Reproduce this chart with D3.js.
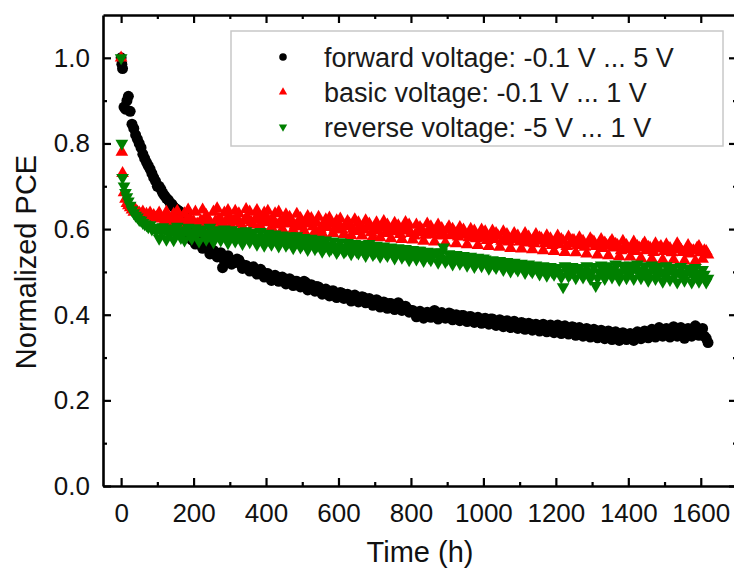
<!DOCTYPE html>
<html>
<head>
<meta charset="utf-8">
<script src="https://cdn.jsdelivr.net/npm/d3@7"></script>
<style>
  html, body { margin: 0; padding: 0; background: #fff; }
  svg { display: block; }
  text { font-family: "Liberation Sans", Arial, sans-serif; }
</style>
</head>
<body>
<svg id="chart" width="734" height="572"></svg>
<script>
// ---------------- data ----------------
// first pass of measurements
const hours = [
  0, 2, 4, 8, 12, 16, 20, 25, 30, 35, 40, 45, 50, 55, 60, 65, 70, 75, 80, 85, 90, 95, 100,
  110, 120, 130, 140, 150, 160, 170, 180, 190, 200,
  210, 220, 230, 240, 250, 260, 270, 280, 290, 300,
  310, 320, 330, 340, 350, 360, 370, 380, 390, 400,
  410, 420, 430, 440, 450, 460, 470, 480, 490, 500,
  510, 520, 530, 540, 550, 560, 570, 580, 590, 600,
  610, 620, 630, 640, 650, 660, 670, 680, 690, 700,
  710, 720, 730, 740, 750, 760, 770, 780, 790, 800,
  810, 820, 830, 840, 850, 860, 870, 880, 890, 900,
  910, 920, 930, 940, 950, 960, 970, 980, 990, 1000,
  1010, 1020, 1030, 1040, 1050, 1060, 1070, 1080, 1090, 1100,
  1110, 1120, 1130, 1140, 1150, 1160, 1170, 1180, 1190, 1200,
  1210, 1220, 1230, 1240, 1250, 1260, 1270, 1280, 1290, 1300,
  1310, 1320, 1330, 1340, 1350, 1360, 1370, 1380, 1390, 1400,
  1410, 1420, 1430, 1440, 1450, 1460, 1470, 1480, 1490, 1500,
  1510, 1520, 1530, 1540, 1550, 1560, 1570, 1580, 1590, 1600,
  1610, 1620
];

const forwardPCE = [
  1.00, 0.985, 0.975, 0.885, 0.88, 0.90, 0.91, 0.875, 0.845, 0.835, 0.82, 0.81, 0.80, 0.79, 0.775, 0.765, 0.756, 0.748, 0.74, 0.73, 0.72, 0.712, 0.70,
  0.693, 0.678, 0.668, 0.658, 0.648, 0.642, 0.635, 0.628, 0.60, 0.585,
  0.575, 0.568, 0.562, 0.556, 0.55, 0.545, 0.54, 0.51, 0.535, 0.53,
  0.525, 0.53, 0.52, 0.515, 0.51, 0.51, 0.505, 0.50, 0.50, 0.495,
  0.49, 0.49, 0.485, 0.487, 0.48, 0.482, 0.476, 0.478, 0.47, 0.472,
  0.475, 0.465, 0.462, 0.466, 0.458, 0.455, 0.452, 0.455, 0.45, 0.447,
  0.45, 0.445, 0.44, 0.443, 0.438, 0.436, 0.44, 0.434, 0.43, 0.428,
  0.432, 0.425, 0.422, 0.426, 0.42, 0.418, 0.422, 0.416, 0.414, 0.41,
  0.405, 0.40, 0.402, 0.398, 0.40, 0.404, 0.40, 0.397, 0.40, 0.398,
  0.402, 0.396, 0.395, 0.398, 0.392, 0.395, 0.39, 0.392, 0.388, 0.39,
  0.387, 0.39, 0.385, 0.383, 0.386, 0.38, 0.383, 0.378, 0.38, 0.376,
  0.38, 0.375, 0.378, 0.372, 0.375, 0.37, 0.374, 0.368, 0.372, 0.37,
  0.367, 0.372, 0.365, 0.368, 0.37, 0.364, 0.366, 0.362, 0.365, 0.36,
  0.363, 0.358, 0.36, 0.356, 0.359, 0.354, 0.356, 0.352, 0.355, 0.353,
  0.35, 0.356, 0.352, 0.358, 0.354, 0.36, 0.355, 0.358, 0.362, 0.356,
  0.36, 0.364, 0.358, 0.366, 0.36, 0.355, 0.362, 0.358, 0.365, 0.36,
  0.35, 0.335
];

const basicPCE = [
  1.00, 0.78, 0.73, 0.685, 0.67, 0.66, 0.655, 0.65, 0.645, 0.64, 0.645, 0.64, 0.638, 0.635, 0.64, 0.632, 0.635, 0.63, 0.638, 0.628, 0.632, 0.626, 0.63,
  0.624, 0.628, 0.62, 0.625, 0.618, 0.622, 0.615, 0.62, 0.625, 0.618,
  0.612, 0.62, 0.615, 0.622, 0.61, 0.618, 0.625, 0.615, 0.62, 0.628,
  0.618, 0.623, 0.612, 0.62, 0.626, 0.616, 0.622, 0.63, 0.618, 0.625,
  0.615, 0.622, 0.61, 0.618, 0.624, 0.612, 0.62, 0.608, 0.616, 0.605,
  0.612, 0.618, 0.606, 0.614, 0.60, 0.61, 0.604, 0.612, 0.60, 0.608,
  0.598, 0.606, 0.612, 0.60, 0.595, 0.604, 0.598, 0.606, 0.592, 0.60,
  0.596, 0.604, 0.59, 0.598, 0.594, 0.60, 0.588, 0.596, 0.602, 0.59,
  0.584, 0.592, 0.598, 0.586, 0.594, 0.588, 0.596, 0.584, 0.59, 0.598,
  0.585, 0.592, 0.582, 0.59, 0.586, 0.58, 0.588, 0.578, 0.586, 0.58,
  0.574, 0.582, 0.576, 0.584, 0.572, 0.578, 0.57, 0.576, 0.582, 0.57,
  0.576, 0.568, 0.574, 0.566, 0.572, 0.578, 0.566, 0.572, 0.562, 0.57,
  0.564, 0.572, 0.56, 0.566, 0.574, 0.562, 0.568, 0.558, 0.565, 0.572,
  0.56, 0.566, 0.555, 0.562, 0.568, 0.556, 0.562, 0.55, 0.558, 0.552,
  0.56, 0.548, 0.556, 0.562, 0.55, 0.556, 0.546, 0.554, 0.56, 0.548,
  0.555, 0.545, 0.552, 0.558, 0.546, 0.552, 0.542, 0.55, 0.556, 0.545,
  0.55, 0.54
];

const reversePCE = [
  1.00, 0.80, 0.72, 0.70, 0.685, 0.675, 0.665, 0.655, 0.645, 0.638, 0.632, 0.628, 0.622, 0.62, 0.615, 0.612, 0.61, 0.605, 0.61, 0.60, 0.604, 0.598, 0.60,
  0.594, 0.598, 0.59, 0.596, 0.588, 0.594, 0.59, 0.598, 0.586, 0.592,
  0.588, 0.596, 0.585, 0.59, 0.582, 0.588, 0.594, 0.584, 0.59, 0.58,
  0.586, 0.592, 0.578, 0.585, 0.58, 0.588, 0.576, 0.582, 0.575, 0.58,
  0.572, 0.578, 0.57, 0.576, 0.582, 0.568, 0.574, 0.566, 0.572, 0.564,
  0.57, 0.562, 0.568, 0.56, 0.566, 0.556, 0.562, 0.555, 0.56, 0.552,
  0.558, 0.55, 0.556, 0.562, 0.548, 0.554, 0.546, 0.552, 0.558, 0.545,
  0.55, 0.556, 0.544, 0.55, 0.542, 0.548, 0.554, 0.54, 0.546, 0.538,
  0.544, 0.55, 0.536, 0.542, 0.534, 0.54, 0.546, 0.532, 0.558, 0.53,
  0.536, 0.528, 0.534, 0.526, 0.532, 0.524, 0.53, 0.52, 0.526, 0.532,
  0.518, 0.524, 0.516, 0.522, 0.514, 0.52, 0.512, 0.518, 0.51, 0.516,
  0.508, 0.514, 0.505, 0.512, 0.504, 0.51, 0.502, 0.508, 0.50, 0.506,
  0.498, 0.465, 0.504, 0.496, 0.502, 0.508, 0.496, 0.502, 0.494, 0.50,
  0.468, 0.498, 0.505, 0.494, 0.50, 0.506, 0.494, 0.50, 0.508, 0.496,
  0.502, 0.51, 0.498, 0.504, 0.494, 0.50, 0.506, 0.495, 0.50, 0.492,
  0.498, 0.505, 0.494, 0.50, 0.49, 0.496, 0.502, 0.49, 0.496, 0.488,
  0.494, 0.485
];

// second pass of measurements (between the first-pass times)
const hoursB = [
  105, 115, 125, 135, 145, 155, 165, 175, 185, 195,
  205, 215, 225, 235, 245, 255, 265, 275, 285, 295,
  305, 315, 325, 335, 345, 355, 365, 375, 385, 395,
  405, 415, 425, 435, 445, 455, 465, 475, 485, 495,
  505, 515, 525, 535, 545, 555, 565, 575, 585, 595,
  605, 615, 625, 635, 645, 655, 665, 675, 685, 695,
  705, 715, 725, 735, 745, 755, 765, 775, 785, 795,
  805, 815, 825, 835, 845, 855, 865, 875, 885, 895,
  905, 915, 925, 935, 945, 955, 965, 975, 985, 995,
  1005, 1015, 1025, 1035, 1045, 1055, 1065, 1075, 1085, 1095,
  1105, 1115, 1125, 1135, 1145, 1155, 1165, 1175, 1185, 1195,
  1205, 1215, 1225, 1235, 1245, 1255, 1265, 1275, 1285, 1295,
  1305, 1315, 1325, 1335, 1345, 1355, 1365, 1375, 1385, 1395,
  1405, 1415, 1425, 1435, 1445, 1455, 1465, 1475, 1485, 1495,
  1505, 1515, 1525, 1535, 1545, 1555, 1565, 1575, 1585, 1595,
  1605, 1615
];

const forwardPCE_B = [
  0.70, 0.684, 0.672, 0.662, 0.652, 0.645, 0.638, 0.615, 0.59, 0.575,
  0.565, 0.572, 0.555, 0.562, 0.542, 0.55, 0.535, 0.545, 0.526, 0.538,
  0.518, 0.522, 0.528, 0.508, 0.515, 0.502, 0.512, 0.495, 0.506, 0.488,
  0.496, 0.48, 0.492, 0.478, 0.488, 0.472, 0.484, 0.468, 0.478, 0.465,
  0.478, 0.458, 0.47, 0.455, 0.465, 0.448, 0.46, 0.444, 0.456, 0.44,
  0.452, 0.438, 0.448, 0.432, 0.446, 0.43, 0.442, 0.428, 0.438, 0.422,
  0.435, 0.418, 0.43, 0.415, 0.426, 0.412, 0.428, 0.41, 0.42, 0.406,
  0.41, 0.395, 0.408, 0.392, 0.406, 0.394, 0.41, 0.39, 0.405, 0.392,
  0.404, 0.388, 0.40, 0.386, 0.398, 0.384, 0.396, 0.382, 0.394, 0.38,
  0.392, 0.378, 0.39, 0.375, 0.388, 0.372, 0.386, 0.37, 0.385, 0.368,
  0.382, 0.366, 0.38, 0.364, 0.378, 0.362, 0.378, 0.36, 0.376, 0.358,
  0.376, 0.356, 0.374, 0.355, 0.372, 0.352, 0.37, 0.35, 0.368, 0.348,
  0.366, 0.346, 0.364, 0.344, 0.362, 0.342, 0.36, 0.34, 0.358, 0.342,
  0.356, 0.34, 0.36, 0.344, 0.362, 0.346, 0.366, 0.348, 0.37, 0.35,
  0.368, 0.348, 0.372, 0.35, 0.37, 0.345, 0.368, 0.35, 0.374, 0.352,
  0.368, 0.345
];

const basicPCE_B = [
  0.638, 0.612, 0.64, 0.61, 0.635, 0.642, 0.608, 0.636, 0.645, 0.612,
  0.64, 0.605, 0.645, 0.632, 0.606, 0.64, 0.648, 0.61, 0.638, 0.644,
  0.607, 0.642, 0.636, 0.605, 0.646, 0.64, 0.61, 0.644, 0.606, 0.638,
  0.642, 0.604, 0.636, 0.64, 0.60, 0.634, 0.628, 0.598, 0.635, 0.625,
  0.596, 0.63, 0.625, 0.594, 0.628, 0.59, 0.622, 0.626, 0.59, 0.62,
  0.624, 0.588, 0.618, 0.585, 0.622, 0.615, 0.584, 0.62, 0.612, 0.582,
  0.615, 0.58, 0.618, 0.61, 0.578, 0.614, 0.608, 0.576, 0.616, 0.61,
  0.575, 0.61, 0.604, 0.572, 0.612, 0.606, 0.57, 0.61, 0.602, 0.568,
  0.606, 0.60, 0.566, 0.604, 0.598, 0.564, 0.60, 0.596, 0.562, 0.598,
  0.594, 0.56, 0.596, 0.59, 0.558, 0.594, 0.588, 0.555, 0.59, 0.584,
  0.554, 0.59, 0.582, 0.552, 0.588, 0.58, 0.55, 0.585, 0.578, 0.548,
  0.584, 0.576, 0.546, 0.582, 0.574, 0.545, 0.58, 0.572, 0.542, 0.578,
  0.57, 0.54, 0.576, 0.568, 0.538, 0.574, 0.565, 0.536, 0.572, 0.562,
  0.535, 0.57, 0.56, 0.532, 0.568, 0.558, 0.53, 0.566, 0.556, 0.528,
  0.564, 0.555, 0.528, 0.566, 0.552, 0.526, 0.562, 0.55, 0.525, 0.56,
  0.53, 0.548
];

const reversePCE_B = [
  0.578, 0.605, 0.576, 0.602, 0.575, 0.606, 0.58, 0.574, 0.604, 0.578,
  0.603, 0.572, 0.60, 0.576, 0.604, 0.57, 0.598, 0.574, 0.60, 0.568,
  0.598, 0.572, 0.594, 0.566, 0.596, 0.57, 0.592, 0.564, 0.594, 0.562,
  0.59, 0.564, 0.588, 0.56, 0.586, 0.562, 0.584, 0.556, 0.584, 0.558,
  0.58, 0.552, 0.578, 0.554, 0.576, 0.548, 0.574, 0.55, 0.572, 0.545,
  0.57, 0.546, 0.568, 0.542, 0.566, 0.544, 0.564, 0.538, 0.566, 0.54,
  0.562, 0.536, 0.56, 0.538, 0.558, 0.532, 0.556, 0.534, 0.554, 0.528,
  0.552, 0.53, 0.55, 0.526, 0.548, 0.528, 0.546, 0.522, 0.546, 0.524,
  0.542, 0.518, 0.54, 0.52, 0.538, 0.515, 0.536, 0.512, 0.534, 0.514,
  0.53, 0.508, 0.528, 0.51, 0.526, 0.505, 0.524, 0.502, 0.522, 0.504,
  0.52, 0.498, 0.518, 0.50, 0.516, 0.495, 0.514, 0.492, 0.512, 0.494,
  0.51, 0.488, 0.514, 0.49, 0.512, 0.486, 0.51, 0.488, 0.514, 0.484,
  0.512, 0.486, 0.516, 0.484, 0.514, 0.488, 0.518, 0.482, 0.515, 0.486,
  0.516, 0.484, 0.518, 0.486, 0.514, 0.48, 0.516, 0.484, 0.512, 0.478,
  0.514, 0.482, 0.51, 0.476, 0.512, 0.48, 0.508, 0.476, 0.51, 0.478,
  0.505, 0.476
];

const seriesNames = [
  "forward voltage: -0.1 V ... 5 V",
  "basic voltage: -0.1 V ... 1 V",
  "reverse voltage: -5 V ... 1 V"
];
const xTickValues = [0, 200, 400, 600, 800, 1000, 1200, 1400, 1600];
const yTickValues = [0.0, 0.2, 0.4, 0.6, 0.8, 1.0];
const xTitle = "Time (h)";
const yTitle = "Normalized PCE";

// ---------------- layout ----------------
const plot = { left: 103, right: 737, top: 15, bottom: 486 };
const svg = d3.select("#chart");

const x = d3.scaleLinear().domain([-50, 1700]).range([plot.left, plot.right]);
const y = d3.scaleLinear().domain([0, 1.1]).range([plot.bottom, plot.top]);

const series = [
  { name: seriesNames[0], a: forwardPCE, b: forwardPCE_B, color: "#000000", shape: "circle" },
  { name: seriesNames[1], a: basicPCE, b: basicPCE_B, color: "#ff0000", shape: "up" },
  { name: seriesNames[2], a: reversePCE, b: reversePCE_B, color: "#008000", shape: "down" }
];

function symbolPath(shape, size) {
  if (shape === "circle") return d3.symbol().type(d3.symbolCircle).size(size)();
  return d3.symbol().type(d3.symbolTriangle).size(size)();
}

const gPlot = svg.append("g");
series.forEach(s => {
  const pts = hours.map((h, k) => ({ h, v: s.a[k] }))
    .concat(hoursB.map((h, k) => ({ h, v: s.b[k] })))
    .filter(d => d.v != null)
    .sort((p, q) => p.h - q.h);
  gPlot.append("g").selectAll("path").data(pts).join("path")
    .attr("d", symbolPath(s.shape, s.shape === "circle" ? 95 : 70))
    .attr("transform", d => `translate(${x(d.h)},${y(d.v)})` + (s.shape === "down" ? " rotate(180)" : ""))
    .attr("fill", s.color);
});

// ---------------- axes ----------------
const axisStroke = 2.6;
const tickFont = 26;

function styleAxis(g) {
  g.select(".domain").attr("stroke", "#000").attr("stroke-width", axisStroke);
  g.selectAll(".tick line").attr("stroke", "#000").attr("stroke-width", 2.2);
  g.selectAll(".tick text").attr("fill", "#111").style("font-size", tickFont + "px")
    .style("font-family", "'Liberation Sans', Arial, sans-serif");
}
function minorStyle(g) {
  g.select(".domain").remove();
  g.selectAll(".tick line").attr("stroke", "#000").attr("stroke-width", 2.2);
}

const xMinor = [100, 300, 500, 700, 900, 1100, 1300, 1500];
const yMinor = [0.1, 0.3, 0.5, 0.7, 0.9];

// bottom
const gx = svg.append("g").attr("transform", `translate(0,${plot.bottom})`)
  .call(d3.axisBottom(x).tickValues(xTickValues).tickSize(-8).tickSizeOuter(0).tickPadding(18).tickFormat(d3.format("d")));
styleAxis(gx);
gx.selectAll(".tick text").attr("dy", "0.71em");
svg.append("g").attr("transform", `translate(0,${plot.bottom})`)
  .call(d3.axisBottom(x).tickValues(xMinor).tickSize(-4).tickSizeOuter(0).tickFormat(""))
  .call(minorStyle);

// top
const gxt = svg.append("g").attr("transform", `translate(0,${plot.top})`)
  .call(d3.axisTop(x).tickValues(xTickValues).tickSize(-8).tickSizeOuter(0).tickFormat(""));
styleAxis(gxt);
svg.append("g").attr("transform", `translate(0,${plot.top})`)
  .call(d3.axisTop(x).tickValues(xMinor).tickSize(-4).tickSizeOuter(0).tickFormat(""))
  .call(minorStyle);

// left
const gy = svg.append("g").attr("transform", `translate(${plot.left},0)`)
  .call(d3.axisLeft(y).tickValues(yTickValues).tickSize(-8).tickSizeOuter(0).tickPadding(13).tickFormat(d3.format(".1f")));
styleAxis(gy);
svg.append("g").attr("transform", `translate(${plot.left},0)`)
  .call(d3.axisLeft(y).tickValues(yMinor).tickSize(-4).tickSizeOuter(0).tickFormat(""))
  .call(minorStyle);

// right
const gyr = svg.append("g").attr("transform", `translate(${plot.right},0)`)
  .call(d3.axisRight(y).tickValues(yTickValues).tickSize(-8).tickSizeOuter(0).tickFormat(""));
styleAxis(gyr);
svg.append("g").attr("transform", `translate(${plot.right},0)`)
  .call(d3.axisRight(y).tickValues(yMinor).tickSize(-4).tickSizeOuter(0).tickFormat(""))
  .call(minorStyle);

// axis titles
svg.append("text")
  .attr("x", (plot.left + plot.right) / 2).attr("y", 562)
  .attr("text-anchor", "middle").attr("fill", "#111")
  .style("font-size", "29px").text(xTitle);

svg.append("text")
  .attr("transform", `translate(36,262) rotate(-90)`)
  .attr("text-anchor", "middle").attr("fill", "#111")
  .style("font-size", "29px").text(yTitle);

// ---------------- legend ----------------
const legend = svg.append("g");
legend.append("rect")
  .attr("x", 231).attr("y", 31).attr("width", 492).attr("height", 115)
  .attr("fill", "#fff").attr("stroke", "#c8c8c8").attr("stroke-width", 1.5);

series.forEach((s, i) => {
  const cy = 57 + i * 35;
  legend.append("path")
    .attr("d", symbolPath(s.shape, s.shape === "circle" ? 45 : 30))
    .attr("transform", `translate(283,${cy})` + (s.shape === "down" ? " rotate(180)" : ""))
    .attr("fill", s.color);
  legend.append("text")
    .attr("x", 324).attr("y", cy).attr("dy", "0.36em")
    .attr("fill", "#1a1a1a").style("font-size", "27px")
    .text(s.name);
});
</script>
</body>
</html>
